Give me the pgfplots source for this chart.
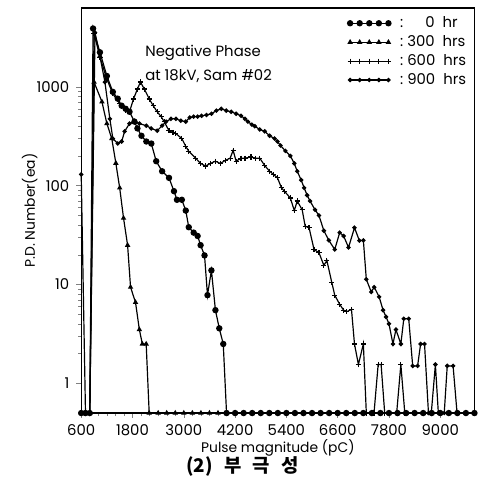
\documentclass[border=0pt]{standalone}
\usepackage{pgfplots}
\pgfplotsset{compat=1.18}
\usepackage{fontspec}
\setmainfont{Poppins}
\newfontfamily\kr{Noto Sans CJK KR}
\begin{document}
\begin{tikzpicture}
\begin{axis}[
  scale only axis, width=198.5pt, height=204.5pt,
  ymode=log, xmin=600, xmax=9800, ymin=0.5, ymax=6300,
  clip=false,
  axis line style={line width=0.6pt},
  tick pos=left, tick align=outside,
  major tick length=2.5pt, minor tick length=1.5pt,
  xtick={600,1800,3000,4200,5400,6600,7800,9000},
  xticklabels={600,1800,3000,4200,5400,6600,7800,9000},
  minor x tick num=5,
  ytick={1,10,100,1000},
  yticklabels={1,10,100,1000},
  tick label style={font=\fontsize{7.5}{8}\selectfont},
  xlabel={Pulse magnitude (pC)},
  ylabel={P.D. Number(ea)},
  xlabel style={font=\fontsize{7}{8}\selectfont, at={(axis description cs:0.5,0)}, anchor=center, yshift=-17.5pt},
  ylabel style={font=\fontsize{7}{8}\selectfont, at={(axis description cs:-0.131,0.5)}, anchor=center},
  legend style={at={(rel axis cs:0.995,0.995)}, anchor=north east, draw=none, fill=none,
    font=\fontsize{7.5}{8.5}\selectfont, row sep=-1.5pt, inner sep=1pt},
  legend cell align=left,
  legend image code/.code={\draw[mark repeat=1,#1] plot coordinates {(0cm,0cm) (0.17cm,0cm) (0.34cm,0cm) (0.51cm,0cm) (0.68cm,0cm)};},
  every axis plot/.append style={line width=0.6pt, black, mark options={solid, fill=black}},
]
% 0 hr
\addplot[mark=*, mark size=1.3pt] coordinates {
(600,0.5)(700,0.5)(800,0.5)(877,3900)(1038,2240)(1200,1290)(1340,890)(1455,760)(1546,645)(1640,600)(1730,560)(1846,445)(1915,380)(2010,320)(2123,280)(2240,267)(2354,177)(2493,140)(2654,120)(2770,88)(2840,72)(2954,72)(3046,56)(3116,38)(3231,33.5)(3323,31)(3393,25)(3485,19.7)(3554,7.8)(3646,13.9)(3740,5.5)(3830,3.6)(3923,2.5)(4000,0.5)
(4200,0.5)(4400,0.5)(4600,0.5)(4800,0.5)(5000,0.5)(5200,0.5)(5400,0.5)(5600,0.5)(5800,0.5)(6000,0.5)(6200,0.5)(6400,0.5)(6600,0.5)(6800,0.5)(7000,0.5)(7200,0.5)(7400,0.5)(7600,0.5)(7800,0.5)(8000,0.5)(8200,0.5)(8400,0.5)(8600,0.5)(8800,0.5)(9000,0.5)(9200,0.5)(9400,0.5)(9600,0.5)(9800,0.5)};
\addlegendentry{\hspace{0.35em}:\ \phantom{30}0\ \ hr}
% 300 hrs
\addplot[mark=triangle*, mark size=1.0pt] coordinates {
(600,0.5)(700,0.5)(800,0.5)(900,1120)(1085,706)(1200,425)(1315,300)(1410,169)(1500,95)(1590,47)(1685,25)(1754,9.4)(1870,6.6)(1960,3.5)(2030,2.5)(2120,2.5)(2190,0.5)
(2400,0.5)(2600,0.5)(2800,0.5)(3000,0.5)(3200,0.5)(3400,0.5)(3600,0.5)(3800,0.5)(4000,0.5)(4200,0.5)(4400,0.5)(4600,0.5)(4800,0.5)(5000,0.5)(5200,0.5)(5400,0.5)(5600,0.5)(5800,0.5)(6000,0.5)(6200,0.5)(6400,0.5)(6600,0.5)(6800,0.5)(7000,0.5)(7200,0.5)(7400,0.5)(7600,0.5)(7800,0.5)(8000,0.5)(8200,0.5)(8400,0.5)(8600,0.5)(8800,0.5)(9000,0.5)(9200,0.5)(9400,0.5)(9600,0.5)(9800,0.5)};
\addlegendentry{\hspace{0.35em}:\ 300\ \ hrs}
% 600 hrs
\addplot[mark=+, mark size=1.3pt] coordinates {
(600,0.5)(700,0.5)(800,0.5)(900,3500)(1038,2000)(1200,1200)(1340,850)(1500,675)(1640,575)(1730,560)(1823,755)(1915,950)(1985,1120)(2077,950)(2192,755)(2285,645)(2377,560)(2470,500)(2540,445)(2654,360)(2746,345)(2815,337)(2954,300)(3046,250)(3116,223)(3277,190)(3393,168)(3508,158)(3624,168)(3740,177)(3854,168)(3970,180)(4085,190)(4154,228)(4224,177)(4339,190)(4431,190)(4570,195)(4685,190)(4777,190)(4893,160)(5008,140)(5100,130)(5192,120)(5285,95)(5354,88)(5493,75)(5585,56)(5654,70)(5770,57)(5839,39)(5931,37.5)(6047,22.6)(6162,21)(6277,15.6)(6347,17.5)(6462,10.5)(6531,7.8)(6647,6.3)(6739,5.5)(6808,5.3)(6923,5.6)(6993,2.5)(7085,1.55)(7201,2.5)(7270,0.5)(7450,0.5)(7547,1.55)(7616,1.55)(7700,0.5)(7980,0.5)(8078,1.55)(8170,0.5)
(8400,0.5)(8600,0.5)(8800,0.5)(9000,0.5)(9200,0.5)(9400,0.5)(9600,0.5)(9800,0.5)};
\addlegendentry{\hspace{0.35em}:\ 600\ \ hrs}
% 900 hrs
\addplot[mark=*, mark size=0.8pt] coordinates {
(600,130)(700,0.5)(800,0.5)(923,3550)(1038,2040)(1154,1120)(1270,475)(1340,300)(1455,267)(1546,280)(1616,355)(1730,425)(1846,455)(1962,425)(2123,405)(2238,380)(2377,360)(2493,405)(2585,445)(2700,475)(2816,475)(2931,455)(3046,445)(3139,490)(3231,500)(3323,500)(3416,510)(3531,520)(3647,535)(3762,575)(3877,600)(3993,575)(4108,560)(4224,535)(4339,510)(4431,475)(4500,445)(4593,415)(4662,400)(4777,370)(4893,355)(5008,320)(5123,300)(5192,280)(5262,255)(5377,225)(5493,200)(5585,168)(5654,140)(5746,114)(5816,95)(5885,80)(5954,70)(6070,57)(6162,50)(6277,35)(6393,28)(6531,22.6)(6647,33.5)(6739,31)(6854,23.7)(6993,37.6)(7108,27.8)(7201,28)(7270,11.3)(7385,8.4)(7455,9.4)(7570,7.5)(7662,5.5)(7732,4.7)(7800,4.0)(7893,2.5)(7963,3.5)(8078,2.5)(8147,4.5)(8262,4.5)(8355,1.5)(8470,1.5)(8540,2.5)(8632,2.5)(8724,0.5)(8790,0.5)(8886,1.55)(8955,0.5)(9093,0.5)(9163,1.5)(9300,1.5)(9393,0.5)(9600,0.5)(9800,0.5)};
\addlegendentry{\hspace{0.35em}:\ 900\ \ hrs}
\node[anchor=west, font=\fontsize{7.5}{8}\selectfont, inner sep=0pt] at (rel axis cs:0.162,0.89) {Negative Phase};
\node[anchor=west, font=\fontsize{7.5}{8}\selectfont, inner sep=0pt] at (rel axis cs:0.162,0.831) {at 18kV, Sam \#02};
\node[font=\kr\bfseries\fontsize{9.5}{10}\selectfont, anchor=center] at ([yshift=-27pt]axis description cs:0.41,0) {(2)\hspace{0.6em}부\hspace{0.6em}극\hspace{0.6em}성};
\end{axis}
\path ([xshift=-41pt,yshift=-33pt]current axis.south west) rectangle ([xshift=2pt,yshift=4pt]current axis.north east);
\end{tikzpicture}
\end{document}
